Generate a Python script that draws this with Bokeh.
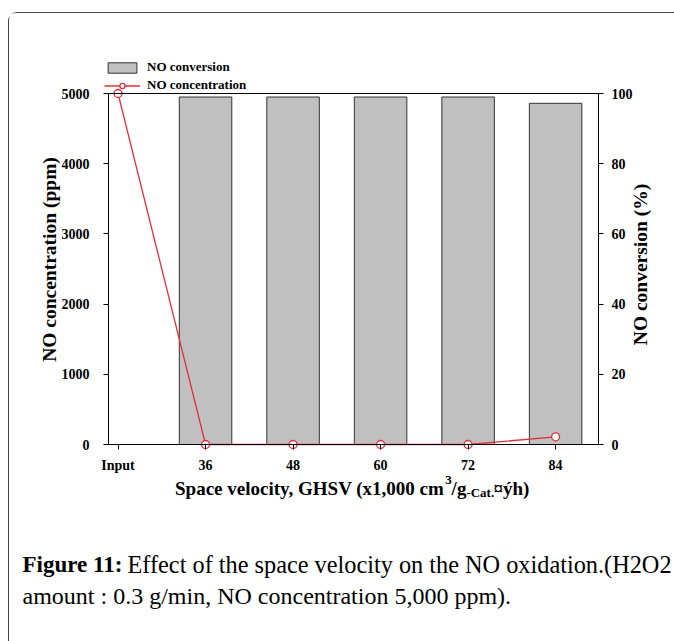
import math
from bokeh.plotting import figure
from bokeh.models import (Range1d, LinearAxis, FixedTicker, Label, Legend,
                          LegendItem, ColumnDataSource)
from bokeh.embed import file_html
from bokeh.resources import INLINE

# ---------------- data ----------------
categories = ["Input", "36", "48", "60", "72", "84"]
no_conversion = [None, 99.0, 99.0, 99.0, 99.0, 97.2]        # NO conversion (%)
no_concentration = [5000, 0, 0, 0, 0, 110]                  # NO concentration (ppm)
left_ticks = [0, 1000, 2000, 3000, 4000, 5000]
right_ticks = [0, 20, 40, 60, 80, 100]

# ---------------- layout constants ----------------
W, H = 666, 629
CL, CR, CT, CB = 99, 589, 80, 431          # chart box edges (canvas px)
AX0, AX1 = -0.109, 5.49                    # x data at chart box left / right
AY0, AY1 = 0, 5000                         # ppm at chart box bottom / top
CV0, CV1 = 0, 100                          # % at chart box bottom / top
SERIF = "Liberation Serif"
RED = "#e0303a"

ux = (AX1 - AX0) / (CR - CL)               # data units per px
uy = (AY1 - AY0) / (CB - CT)
uc = (CV1 - CV0) / (CB - CT)


def dx(px):
    return AX0 + (px - CL) * ux


def dy(py):
    return AY0 + (CB - py) * uy


p = figure(width=W, height=H, output_backend="svg", toolbar_location=None,
           x_range=Range1d(dx(0), dx(W)), y_range=Range1d(dy(H), dy(0)),
           min_border=0, margin=(12, 0, 0, 8),
           styles={"border-left": "1.5px solid #444", "border-top": "1.5px solid #444",
                   "border-top-left-radius": "9px"})
p.extra_y_ranges = {"conv": Range1d(CV0 - (H - CB) * uc, CV1 + CT * uc)}
p.xgrid.visible = False
p.ygrid.visible = False
p.outline_line_color = None
p.background_fill_color = "white"
p.border_fill_color = "white"

xs = list(range(len(categories)))
bar_x = [i for i, v in zip(xs, no_conversion) if v is not None]
bar_top = [v for v in no_conversion if v is not None]
bar_src = ColumnDataSource(dict(x=bar_x, top=bar_top))
line_src = ColumnDataSource(dict(x=xs, y=no_concentration))

bars = p.vbar(x="x", top="top", bottom=0, width=0.6, source=bar_src, y_range_name="conv",
              fill_color="#c0c0c0", line_color="#333333", line_width=1)
ln = p.line(x="x", y="y", source=line_src, line_color=RED, line_width=1.3)
pts = p.scatter(x="x", y="y", source=line_src, marker="circle", size=8,
                fill_color="white", line_color=RED, line_width=1.3)

xax = p.below[0]
lax = p.left[0]
rax = LinearAxis(y_range_name="conv", ticker=FixedTicker(ticks=right_ticks))
p.add_layout(rax, "right")
tax = LinearAxis(ticker=FixedTicker(ticks=[]))
p.add_layout(tax, "above")

for ax in [xax, lax, rax, tax]:
    ax.major_label_text_font = SERIF
    ax.major_label_text_font_style = "bold"
    ax.major_label_text_font_size = "14px"
    ax.major_label_text_color = "black"
    ax.minor_tick_line_color = None
    ax.major_tick_in = 0
    ax.major_tick_out = 5
    ax.axis_line_color = "black"
    ax.axis_line_width = 1
    ax.major_tick_line_color = "black"

xax.ticker = FixedTicker(ticks=xs)
xax.major_label_overrides = {i: c for i, c in zip(xs, categories)}
xax.major_label_standoff = 8
xax.fixed_location = AY0
xax.bounds = (AX0, AX1)

lax.ticker = FixedTicker(ticks=left_ticks)
lax.major_label_standoff = 14
lax.fixed_location = AX0
lax.bounds = (AY0, AY1)

rax.major_label_standoff = 8
rax.fixed_location = AX1
rax.bounds = (CV0, CV1)

tax.fixed_location = AY1
tax.bounds = (AX0, AX1)
tax.major_label_text_alpha = 0
tax.major_tick_line_color = None

# legend above the chart box
legend = Legend(items=[LegendItem(label="NO conversion", renderers=[bars]),
                       LegendItem(label="NO concentration", renderers=[ln, pts])],
                location=(CL - 4, H - CT), orientation="vertical",
                glyph_width=36, glyph_height=13, label_height=15, label_width=20,
                label_standoff=7, spacing=2, padding=0, margin=0,
                border_line_alpha=0, background_fill_alpha=0,
                label_text_font=SERIF, label_text_font_style="bold",
                label_text_font_size="13px", label_text_color="black")
p.add_layout(legend)


def add_text(px, py, txt, size, bold=False, angle=0.0, align="left", baseline="alphabetic"):
    p.add_layout(Label(x=dx(px), y=dy(py), text=txt, text_align=align,
                       text_baseline=baseline, text_font=SERIF, angle=angle,
                       text_font_style="bold" if bold else "normal",
                       text_font_size=f"{size}px", text_color="black"))


# axis titles
add_text(39.5, 246, "NO concentration (ppm)", 19.5, True, math.pi / 2, "center", "middle")
add_text(631, 251, "NO conversion (%)", 19.5, True, math.pi / 2, "center", "middle")

# x title with superscript / subscript
F = 19
k = F / 18
base = 475
x0 = 345 - 170 * k
add_text(x0, base, "Space velocity, GHSV (x1,000 cm", F, True)
add_text(x0 + 256 * k, base - 8.5, "3", round(12.5 * k), True)
add_text(x0 + 262 * k, base, "/g", F, True)
add_text(x0 + 276 * k, base + 4, "-Cat.", round(12.5 * k), True)
add_text(x0 + 301.7 * k, base, " \u00a4\u00fdh)", F, True)

# caption
add_text(13, 551, "Figure 11:", 23, True)
add_text(118, 551, "Effect of the space velocity on the NO oxidation.(H2O2", 24.3)
add_text(13, 582, "amount : 0.3 g/min, NO concentration 5,000 ppm).", 24)

open("out.html", "w").write(file_html(p, INLINE))
